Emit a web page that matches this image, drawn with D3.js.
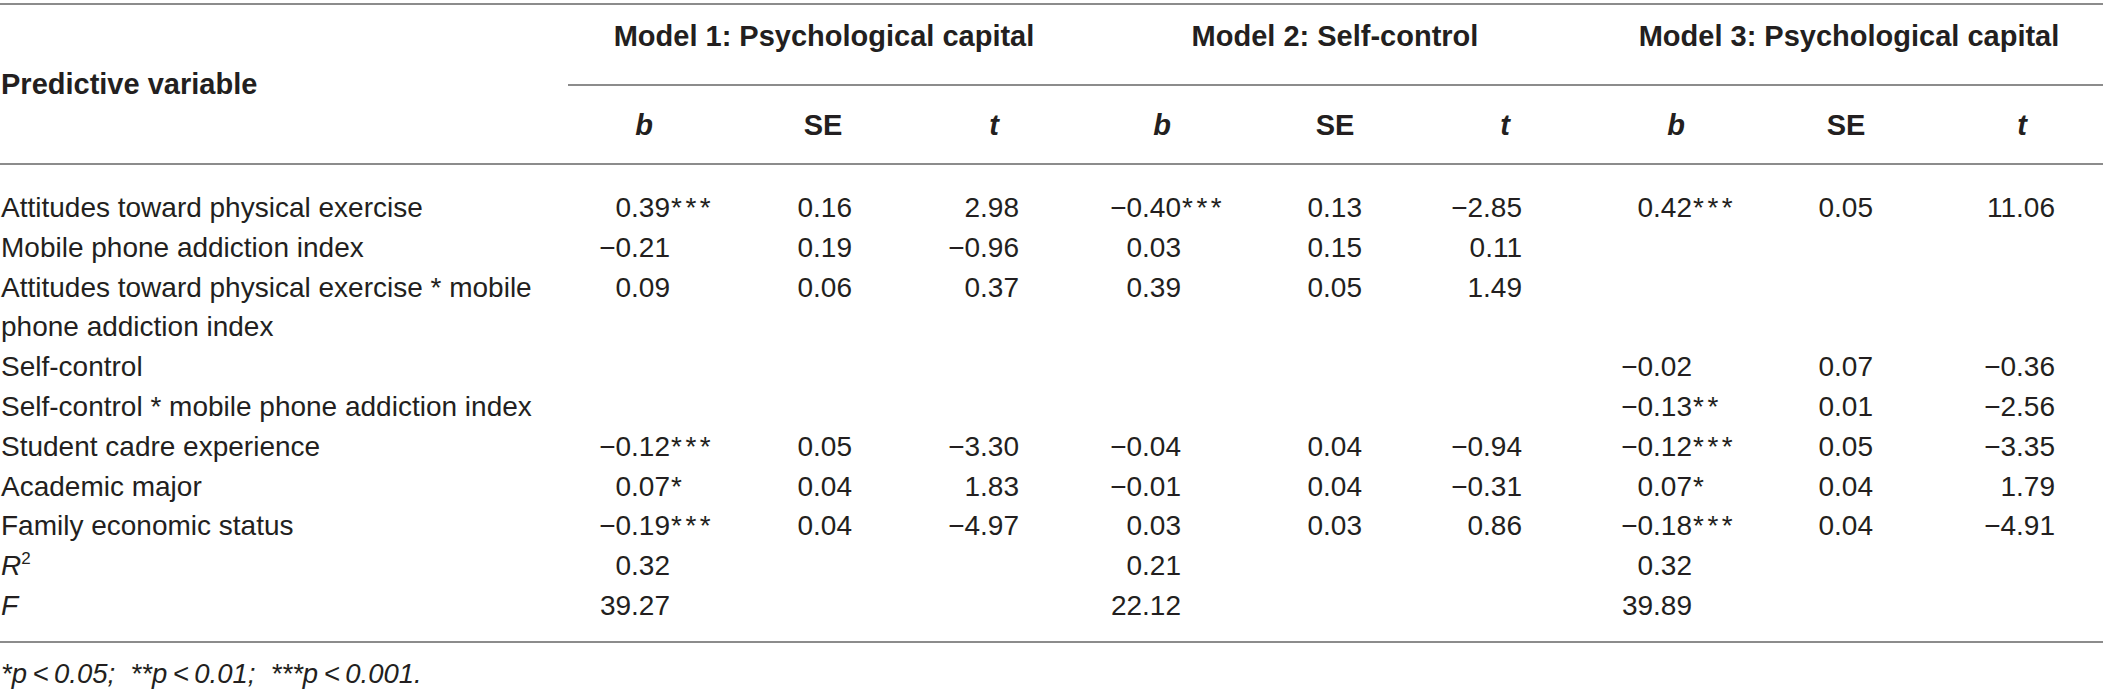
<!DOCTYPE html>
<html><head><meta charset="utf-8">
<script src="https://cdn.jsdelivr.net/npm/d3@7"></script>
<style>html,body{margin:0;padding:0;background:#fff;} svg{display:block;} text{white-space:pre;}</style>
</head><body>
<script>
// ---------- DATA ----------
const predictors = [
  "Attitudes toward physical exercise",
  "Mobile phone addiction index",
  "Attitudes toward physical exercise * mobile phone addiction index",
  "Self-control",
  "Self-control * mobile phone addiction index",
  "Student cadre experience",
  "Academic major",
  "Family economic status",
  "R2",
  "F"
];
const labelLines = [
  ["Attitudes toward physical exercise"],
  ["Mobile phone addiction index"],
  ["Attitudes toward physical exercise * mobile", "phone addiction index"],
  ["Self-control"],
  ["Self-control * mobile phone addiction index"],
  ["Student cadre experience"],
  ["Academic major"],
  ["Family economic status"],
  ["R2"],
  ["F"]
];
const models = ["Model 1: Psychological capital", "Model 2: Self-control", "Model 3: Psychological capital"];
const subHeaders = ["b", "SE", "t"];

const m1b   = [0.39, -0.21, 0.09, null, null, -0.12, 0.07, -0.19, 0.32, 39.27];
const m1sig = ["***", "", "", "", "", "***", "*", "***", "", ""];
const m1se  = [0.16, 0.19, 0.06, null, null, 0.05, 0.04, 0.04, null, null];
const m1t   = [2.98, -0.96, 0.37, null, null, -3.30, 1.83, -4.97, null, null];

const m2b   = [-0.40, 0.03, 0.39, null, null, -0.04, -0.01, 0.03, 0.21, 22.12];
const m2sig = ["***", "", "", "", "", "", "", "", "", ""];
const m2se  = [0.13, 0.15, 0.05, null, null, 0.04, 0.04, 0.03, null, null];
const m2t   = [-2.85, 0.11, 1.49, null, null, -0.94, -0.31, 0.86, null, null];

const m3b   = [0.42, null, null, -0.02, -0.13, -0.12, 0.07, -0.18, 0.32, 39.89];
const m3sig = ["***", "", "", "", "**", "***", "*", "***", "", ""];
const m3se  = [0.05, null, null, 0.07, 0.01, 0.05, 0.04, 0.04, null, null];
const m3t   = [11.06, null, null, -0.36, -2.56, -3.35, 1.79, -4.91, null, null];

const footnote = "*p\u2009<\u20090.05;  **p\u2009<\u20090.01;  ***p\u2009<\u20090.001.";

// ---------- LAYOUT ----------
const W = 2103, H = 700;
const FONT = "'Liberation Sans', Arial, Helvetica, sans-serif";
const TXT = "#231f20";
const RULE = "#8c8c8c";

const svg = d3.select("body").append("svg").attr("width", W).attr("height", H)
  .style("font-family", FONT);

const colKeys = ["b1","se1","t1","b2","se2","t2","b3","se3","t3"];
const colRight = d3.scaleOrdinal().domain(colKeys).range([670, 852, 1019, 1181, 1362, 1522, 1692, 1873, 2055]);
const headX = d3.scaleOrdinal().domain(colKeys).range([644, 823, 994, 1162, 1335, 1505, 1676, 1846, 2022]);
const modelX = d3.scaleOrdinal().domain(models).range([824, 1335, 1849]);

// line index of each predictor row (row 3 wraps to two lines)
const lineIdx = [];
{ let k = 0; labelLines.forEach(l => { lineIdx.push(k); k += l.length; }); }
const y = d3.scaleLinear().domain([0, 10]).range([207, 605]);
const BASE = 10; // center -> baseline

const fmt = d3.format(".2f");

// ---------- RULES ----------
const rules = [
  {x1: 0, x2: W, y: 4},
  {x1: 568, x2: W, y: 85},
  {x1: 0, x2: W, y: 164},
  {x1: 0, x2: W, y: 642}
];
svg.selectAll("line.rule").data(rules).join("line").attr("class", "rule")
  .attr("x1", d => d.x1).attr("x2", d => d.x2).attr("y1", d => d.y).attr("y2", d => d.y)
  .attr("stroke", RULE).attr("stroke-width", 2);

// ---------- HEADERS ----------
svg.append("text").attr("x", 1).attr("y", 94)
  .attr("font-size", 29).attr("font-weight", "bold").attr("fill", TXT)
  .text("Predictive variable");

svg.selectAll("text.model").data(models).join("text").attr("class", "model")
  .attr("x", d => modelX(d)).attr("y", 46).attr("text-anchor", "middle")
  .attr("font-size", 29).attr("font-weight", "bold").attr("fill", TXT)
  .text(d => d);

svg.selectAll("text.sub").data(colKeys).join("text").attr("class", "sub")
  .attr("x", d => headX(d)).attr("y", 135).attr("text-anchor", "middle")
  .attr("font-size", 29).attr("font-weight", "bold").attr("fill", TXT)
  .attr("font-style", (d, i) => subHeaders[i % 3] === "SE" ? "normal" : "italic")
  .text((d, i) => subHeaders[i % 3]);

// ---------- ROW LABELS ----------
const labels = svg.selectAll("g.lab").data(labelLines).join("g").attr("class", "lab");
labels.each(function(lines, i) {
  const g = d3.select(this);
  lines.forEach((ln, j) => {
    const t = g.append("text").attr("x", 1).attr("y", y(lineIdx[i] + j) + BASE)
      .attr("font-size", 28).attr("fill", TXT);
    if (ln === "R2") {
      t.append("tspan").attr("font-style", "italic").text("R");
      t.append("tspan").attr("font-size", 17).attr("dy", -11).text("2");
    } else if (ln === "F") {
      t.attr("font-style", "italic").text("F");
    } else {
      t.text(ln);
    }
  });
});

// ---------- CELLS ----------
const cols = [
  {key: "b1", v: m1b, sig: m1sig}, {key: "se1", v: m1se}, {key: "t1", v: m1t},
  {key: "b2", v: m2b, sig: m2sig}, {key: "se2", v: m2se}, {key: "t2", v: m2t},
  {key: "b3", v: m3b, sig: m3sig}, {key: "se3", v: m3se}, {key: "t3", v: m3t}
];
const cells = [];
cols.forEach(c => c.v.forEach((v, i) => {
  if (v !== null) cells.push({key: c.key, row: i, v, sig: c.sig ? c.sig[i] : ""});
}));

svg.selectAll("text.val").data(cells).join("text").attr("class", "val")
  .attr("x", d => colRight(d.key)).attr("y", d => y(lineIdx[d.row]) + BASE)
  .attr("text-anchor", "end").attr("font-size", 28).attr("fill", TXT)
  .text(d => fmt(d.v));

svg.selectAll("text.sig").data(cells.filter(d => d.sig)).join("text").attr("class", "sig")
  .attr("x", d => colRight(d.key) + 1).attr("y", d => y(lineIdx[d.row]) + BASE)
  .attr("font-size", 28).attr("letter-spacing", 3.5).attr("fill", TXT)
  .text(d => d.sig);

// ---------- FOOTNOTE ----------
svg.append("text").attr("x", 1).attr("y", 683)
  .attr("font-size", 27.5).attr("font-style", "italic").attr("fill", TXT)
  .text(footnote);
</script>
</body></html>
